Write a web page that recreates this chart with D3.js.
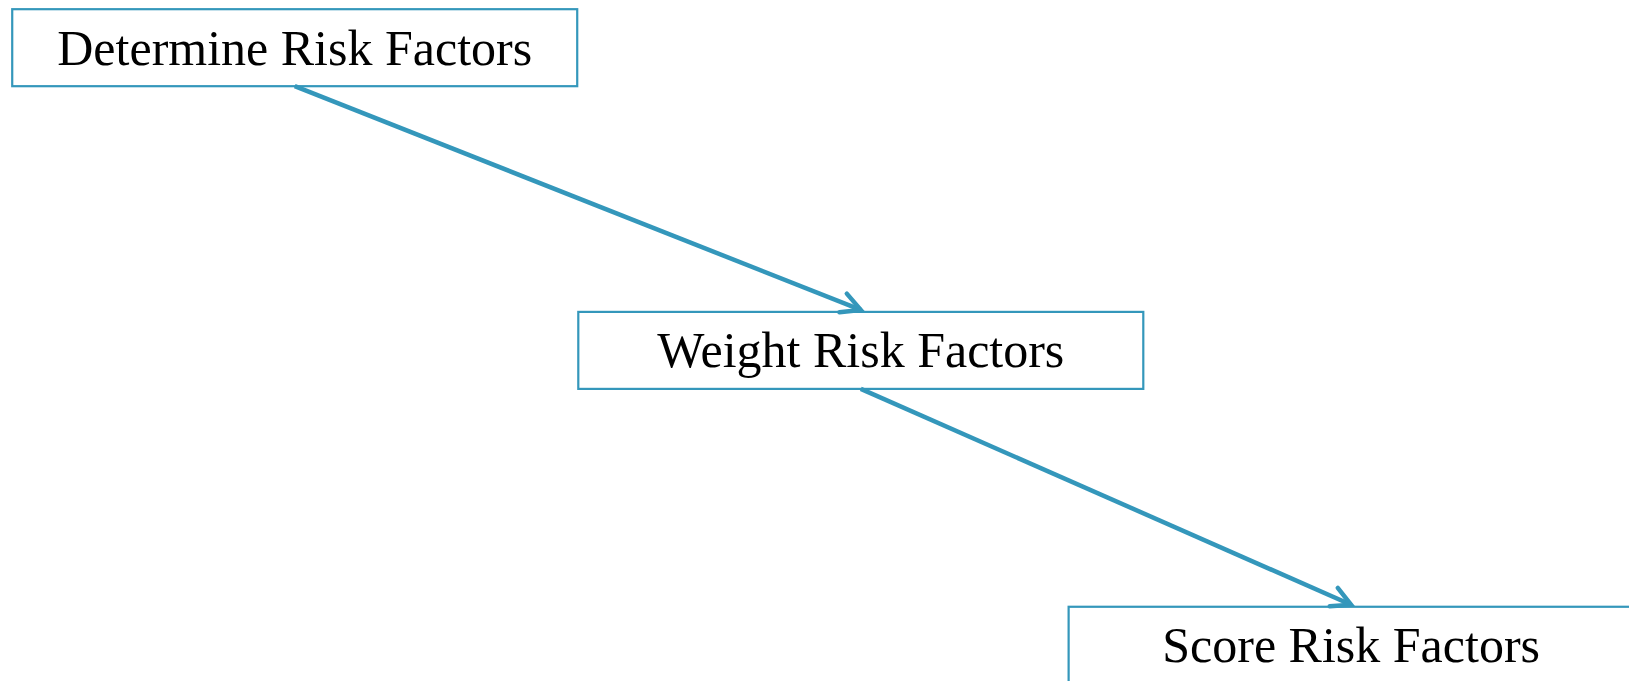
<!DOCTYPE html>
<html>
<head>
<meta charset="utf-8">
<script src="https://cdn.jsdelivr.net/npm/d3@7"></script>
<style>
  html, body { margin: 0; padding: 0; background: #fff; overflow: hidden; }
</style>
</head>
<body>
<div class="container"></div>
<script>
// Steps of the process
const steps = ["Determine Risk Factors", "Weight Risk Factors", "Score Risk Factors"];
// Box left edge and top edge, in percent of the slide
const stepLeft = [0.75, 35.5, 65.6];
const stepTop = [1.35, 45.8, 89.1];
// Links between steps
const links = [[0, 1], [1, 2]];

const w = 1629;
const h = 681;
const boxW = 565;
const boxH = 77;
const color = "#3497bb";

const xScale = d3.scaleLinear().domain([0, 100]).range([0, w]);
const yScale = d3.scaleLinear().domain([0, 100]).range([0, h]);

const nodes = steps.map((s, i) => ({
  label: s,
  x: xScale(stepLeft[i]),
  y: yScale(stepTop[i])
}));

const svg = d3.select(".container")
  .append("svg")
  .attr("width", w)
  .attr("height", h);

svg.append("defs").append("marker")
  .attr("id", "head")
  .attr("viewBox", "-26 -14 30 28")
  .attr("refX", 0)
  .attr("refY", 0)
  .attr("markerWidth", 30)
  .attr("markerHeight", 28)
  .attr("markerUnits", "userSpaceOnUse")
  .attr("orient", "auto")
  .append("path")
  .attr("d", "M-19,-10 L0,0 L-19,10")
  .attr("fill", "none")
  .attr("stroke", color)
  .attr("stroke-width", 4.5)
  .attr("stroke-linecap", "round")
  .attr("stroke-linejoin", "miter");

// Boxes
const g = svg.selectAll("g.step")
  .data(nodes)
  .enter()
  .append("g")
  .attr("class", "step")
  .attr("transform", d => `translate(${d.x},${d.y})`);

g.append("rect")
  .attr("width", boxW)
  .attr("height", boxH)
  .attr("fill", "#fff")
  .attr("stroke", color)
  .attr("stroke-width", 2.2);

g.append("text")
  .attr("x", boxW / 2)
  .attr("y", boxH / 2 + 17)
  .attr("text-anchor", "middle")
  .style("font-family", "'Liberation Serif', serif")
  .style("font-size", "50px")
  .attr("fill", "#000")
  .text(d => d.label);

// Arrows
svg.selectAll("line.link")
  .data(links)
  .enter()
  .append("line")
  .attr("class", "link")
  .attr("x1", d => nodes[d[0]].x + boxW / 2)
  .attr("y1", d => nodes[d[0]].y + boxH)
  .attr("x2", d => nodes[d[1]].x + boxW / 2)
  .attr("y2", d => nodes[d[1]].y - 2)
  .attr("stroke", color)
  .attr("stroke-width", 4.5)
  .attr("marker-end", "url(#head)");
</script>
</body>
</html>
